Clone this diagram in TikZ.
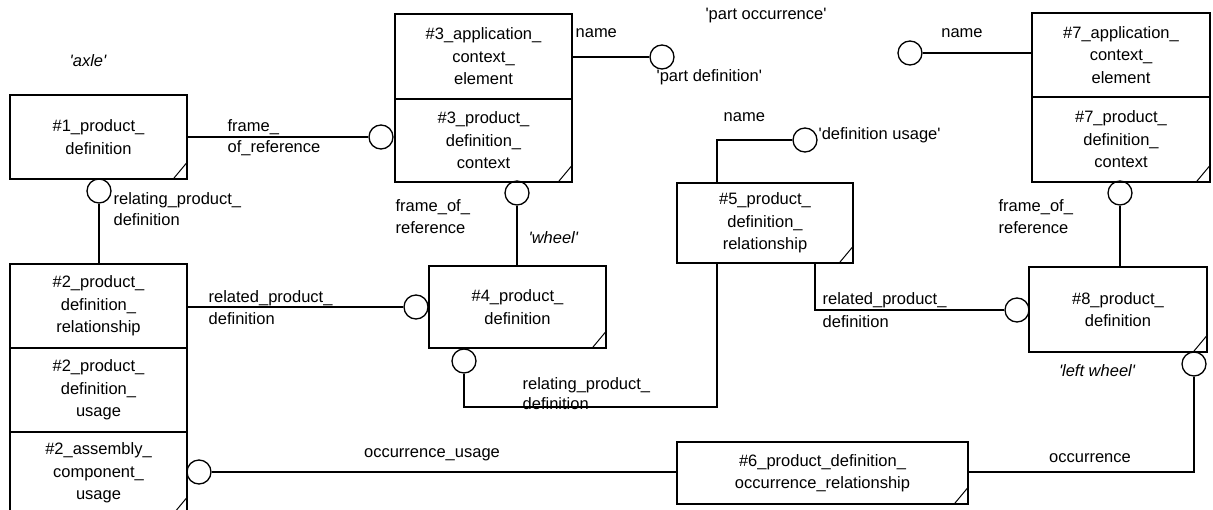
\documentclass[tikz,border=0pt]{standalone}
\usepackage{fontspec}
\setmainfont{Liberation Sans}
\newcommand\dgfont{\fontsize{16.5}{22.5}\selectfont}
\newcommand\qq{\textquotesingle}
\begin{document}
\begin{tikzpicture}[x=1pt,y=-1pt,line width=1.3pt,
  every node/.style={font=\dgfont},
  box/.style={draw,rectangle,inner sep=0pt,align=center,minimum width=177pt},
  conn/.style={draw,circle,minimum size=24pt,inner sep=0pt},
  lbl/.style={inner sep=0pt,anchor=west,text height=11pt,text depth=3pt},
  lblc/.style={inner sep=0pt,text height=11pt,text depth=3pt},
  notch/.style={line width=1pt}]
\clip (0,0) rectangle (1213,509);
\fill[white] (0,0) rectangle (1213,509);
% boxes
\node[box,minimum height=84pt] (b1) at (98.5,137) {\#1\_product\_\\definition};
\node[box,minimum height=85pt] (b3a) at (483.5,56.5) {\#3\_application\_\\context\_\\element};
\node[box,minimum height=83pt] (b3b) at (483.5,140.5) {\#3\_product\_\\definition\_\\context};
\node[box,minimum height=84pt] (b2a) at (98.5,306) {\#2\_product\_\\definition\_\\relationship};
\node[box,minimum height=84pt] (b2b) at (98.5,390) {\#2\_product\_\\definition\_\\usage};
\node[box,minimum height=82pt] (b2c) at (98.5,473) {\#2\_assembly\_\\component\_\\usage};
\node[box,minimum height=82pt] (b4) at (517.5,307) {\#4\_product\_\\definition};
\node[box,minimum width=176pt,minimum height=80pt] (b5) at (765,223) {\#5\_product\_\\definition\_\\relationship};
\node[box,minimum width=291pt,minimum height=62pt] (b6) at (822.5,473) {\#6\_product\_definition\_\\occurrence\_relationship};
\node[box,minimum width=178pt,minimum height=84pt] (b7a) at (1121,55) {\#7\_application\_\\context\_\\element};
\node[box,minimum width=178pt,minimum height=85pt] (b7b) at (1121,139.5) {\#7\_product\_\\definition\_\\context};
\node[box,minimum width=178pt,minimum height=85pt] (b8) at (1118,309.5) {\#8\_product\_\\definition};
% corner notches
\foreach \b in {b1,b3b,b2c,b4,b5,b6,b7b,b8}{
  \draw[notch] ([xshift=-15pt]\b.south east) -- ([yshift=18pt]\b.south east);
}
% circles
\node[conn] (c1) at (381,137) {};
\node[conn] (c1b) at (99,191) {};
\node[conn] (c3n) at (662,57) {};
\node[conn] (c3b) at (517,193) {};
\node[conn] (c4l) at (416,307) {};
\node[conn] (c4b) at (464,361) {};
\node[conn] (c5n) at (805,140) {};
\node[conn] (c8l) at (1017,310) {};
\node[conn] (c7n) at (910,53) {};
\node[conn] (c7b) at (1120,193) {};
\node[conn] (c8b) at (1194,364) {};
\node[conn] (c2c) at (199,472) {};
\coordinate (k1) at (717,407);
\coordinate (k3) at (815,310);
% connectors
\draw (b1.east) -- (c1.west);
\draw (c1b.south) -- (c1b.south |- b2a.north);
\draw (b3a.east |- c3n) -- (c3n.west);
\draw (c3b.south) -- (c3b.south |- b4.north);
\draw (b2a.east |- c4l) -- (c4l.west);
\draw (c4b.south) |- (k1) -- (k1 |- b5.south);
\draw (c5n.west) -| (k1 |- b5.north);
\draw (k3 |- b5.south) -- (k3) -- (c8l.west);
\draw (c7n.east) -- (c7n.east -| b7a.west);
\draw (c7b.south) -- (c7b.south |- b8.north);
\draw (c8b.south) |- (b6.east |- c2c);
\draw (c2c.east) -- (b6.west |- c2c);
% labels
\node[lblc,font=\dgfont\itshape] (t1) at (88,62) {\qq axle\qq};
\node[lbl] (t2) at (227,127) {frame\_};
\node[lbl] (t3) at (227,148) {of\_reference};
\node[lbl] (t4) at (113,200) {relating\_product\_};
\node[lbl] (t5) at (113,221) {definition};
\node[lbl] (t6) at (575,33) {name};
\node[lbl] (t7) at (656,77) {\qq part definition\qq};
\node[lbl] (t8) at (395,207) {frame\_of\_};
\node[lbl] (t9) at (395,229) {reference};
\node[lbl,font=\dgfont\itshape] (t10) at (528,239) {\qq wheel\qq};
\node[lbl] (t11) at (208,298) {related\_product\_};
\node[lbl] (t12) at (208,320) {definition};
\node[lbl] (t13) at (522,385) {relating\_product\_};
\node[lbl] (t14) at (522,405) {definition};
\node[lbl] (t15) at (723,117) {name};
\node[lbl] (t16) at (818,135) {\qq definition usage\qq};
\node[lbl] (t17) at (822,300) {related\_product\_};
\node[lbl] (t18) at (822,323) {definition};
\node[lblc] (t19) at (766,15) {\qq part occurrence\qq};
\node[lblc] (t20) at (962,33) {name};
\node[lbl] (t21) at (998,207) {frame\_of\_};
\node[lbl] (t22) at (998,229) {reference};
\node[lblc,font=\dgfont\itshape] (t23) at (1097,372) {\qq left wheel\qq};
\node[lblc] (t24) at (1090,458) {occurrence};
\node[lblc] (t25) at (432,453) {occurrence\_usage};
\end{tikzpicture}
\end{document}
